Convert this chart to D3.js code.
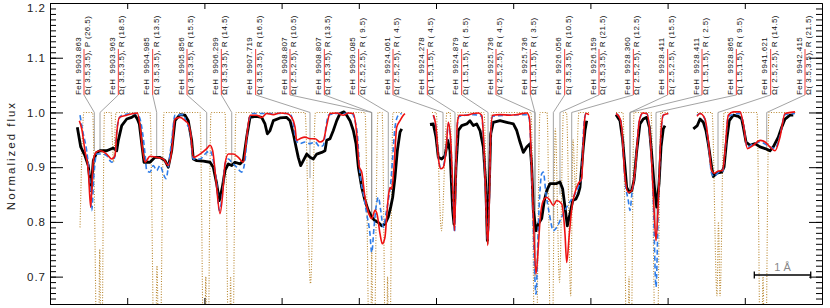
<!DOCTYPE html>
<html>
<head>
<meta charset="utf-8">
<script src="https://cdn.jsdelivr.net/npm/d3@7"></script>
<style>
  body { margin: 0; background: #fff; }
  svg { display: block; font-family: "Liberation Sans", Arial, sans-serif; }
</style>
</head>
<body>
<div id="chart"></div>
<script>
// x is the position along the spliced spectrum (plot runs 0..10), y is normalized flux

// observed spectrum, four spectral windows
const obs1 = [[0.354,0.973],[0.398,0.937],[0.453,0.921],[0.496,0.903],[0.531,0.857],[0.561,0.912],[0.605,0.927],[0.648,0.930],[0.734,0.930],[0.820,0.935],[0.864,0.930],[0.885,0.949],[0.929,0.976],[0.994,0.988],[1.058,0.991],[1.101,0.995],[1.131,0.988],[1.157,0.979],[1.188,0.943],[1.218,0.909],[1.295,0.909],[1.360,0.918],[1.425,0.918],[1.490,0.912],[1.532,0.900],[1.576,0.930],[1.619,0.985],[1.684,0.996],[1.749,0.995],[1.791,0.985],[1.835,0.949],[1.856,0.915],[1.900,0.912],[1.986,0.911],[2.073,0.909],[2.115,0.900],[2.159,0.870],[2.193,0.839],[2.232,0.863],[2.267,0.894],[2.310,0.906],[2.354,0.903],[2.396,0.909],[2.461,0.906],[2.504,0.912],[2.548,0.955],[2.591,0.991],[2.677,0.993],[2.742,0.991],[2.785,0.979],[2.815,0.961],[2.850,0.967],[2.893,0.985],[2.979,0.990],[3.066,0.991],[3.109,0.985],[3.152,0.961],[3.187,0.937],[3.216,0.918],[3.247,0.903],[3.281,0.912],[3.325,0.924],[3.368,0.918],[3.411,0.915],[3.455,0.924],[3.519,0.927],[3.562,0.930],[3.584,0.949],[3.627,0.952],[3.670,0.967],[3.714,0.985],[3.756,0.998],[3.808,1.001],[3.843,0.995],[3.886,0.985],[3.929,0.967],[3.964,0.943],[3.994,0.900],[4.038,0.863],[4.080,0.839],[4.123,0.821],[4.167,0.809],[4.210,0.802],[4.253,0.799],[4.297,0.793],[4.339,0.796],[4.382,0.809],[4.413,0.827],[4.439,0.845],[4.469,0.882],[4.499,0.930],[4.534,0.964],[4.556,0.970]];
const obs2 = [[4.922,0.978],[4.965,0.979],[5.000,0.955],[5.030,0.918],[5.074,0.915],[5.117,0.921],[5.152,0.949],[5.181,0.930],[5.216,0.821],[5.233,0.796],[5.259,0.900],[5.289,0.967],[5.333,0.976],[5.398,0.979],[5.440,0.985],[5.483,0.976],[5.527,0.979],[5.570,0.967],[5.613,0.937],[5.644,0.870],[5.665,0.766],[5.691,0.870],[5.709,0.961],[5.742,0.982],[5.829,0.985],[5.916,0.982],[6.002,0.979],[6.046,0.967],[6.088,0.946],[6.131,0.927],[6.175,0.937],[6.218,0.943],[6.240,0.900],[6.261,0.821],[6.295,0.784],[6.325,0.796],[6.369,0.806],[6.403,0.839],[6.434,0.857],[6.477,0.870],[6.520,0.870],[6.563,0.870],[6.606,0.873],[6.641,0.860],[6.671,0.827],[6.701,0.793],[6.736,0.815],[6.771,0.839],[6.813,0.842],[6.843,0.851],[6.865,0.863],[6.887,0.900],[6.908,0.937],[6.930,0.967],[6.952,0.985]];
const obs3 = [[7.332,0.996],[7.383,0.985],[7.418,0.949],[7.448,0.900],[7.470,0.863],[7.504,0.854],[7.535,0.857],[7.565,0.876],[7.600,0.930],[7.642,0.979],[7.685,0.988],[7.729,0.991],[7.763,0.973],[7.794,0.924],[7.824,0.870],[7.859,0.827],[7.889,0.870],[7.915,0.937],[7.944,0.970],[7.966,0.976]];
const obs4 = [[8.333,0.970],[8.385,0.976],[8.420,0.988],[8.463,0.982],[8.497,0.967],[8.527,0.943],[8.571,0.900],[8.592,0.883],[8.636,0.889],[8.701,0.891],[8.731,0.900],[8.765,0.949],[8.799,0.985],[8.851,0.995],[8.916,0.993],[8.960,0.988],[8.981,0.973],[9.016,0.946],[9.067,0.940],[9.132,0.943],[9.197,0.937],[9.262,0.934],[9.326,0.930],[9.369,0.937],[9.434,0.955],[9.478,0.973],[9.521,0.988],[9.585,0.995],[9.628,0.995]];

// red model
const red1 = [[0.380,0.985],[0.411,0.970],[0.453,0.930],[0.496,0.894],[0.527,0.827],[0.561,0.912],[0.596,0.927],[0.648,0.930],[0.734,0.924],[0.799,0.915],[0.842,0.921],[0.864,0.961],[0.898,0.991],[0.994,0.995],[1.079,0.998],[1.131,0.999],[1.166,0.976],[1.201,0.930],[1.231,0.909],[1.295,0.920],[1.382,0.918],[1.468,0.915],[1.532,0.903],[1.576,0.930],[1.619,0.988],[1.684,0.991],[1.749,0.985],[1.791,0.979],[1.822,0.961],[1.856,0.918],[1.943,0.924],[2.030,0.934],[2.073,0.940],[2.107,0.930],[2.150,0.876],[2.202,0.815],[2.237,0.851],[2.267,0.906],[2.310,0.924],[2.374,0.924],[2.439,0.918],[2.504,0.909],[2.548,0.955],[2.591,0.995],[2.677,0.995],[2.742,0.991],[2.807,0.998],[2.893,0.996],[2.979,0.999],[3.066,0.998],[3.131,0.991],[3.174,0.973],[3.196,0.949],[3.238,0.952],[3.303,0.955],[3.368,0.952],[3.433,0.952],[3.497,0.946],[3.540,0.949],[3.584,0.976],[3.627,0.998],[3.714,0.999],[3.799,0.995],[3.864,0.999],[3.929,0.998],[3.973,0.961],[4.007,0.900],[4.038,0.891],[4.080,0.845],[4.123,0.818],[4.167,0.806],[4.210,0.821],[4.240,0.812],[4.275,0.778],[4.305,0.760],[4.339,0.772],[4.361,0.809],[4.382,0.845],[4.404,0.863],[4.426,0.860],[4.456,0.900],[4.491,0.973],[4.534,0.985],[4.577,0.995],[4.598,0.998]];
const red2 = [[4.965,0.995],[5.000,0.973],[5.030,0.918],[5.061,0.897],[5.095,0.900],[5.130,0.930],[5.160,0.982],[5.190,0.949],[5.224,0.839],[5.240,0.784],[5.259,0.900],[5.276,0.979],[5.302,0.995],[5.398,0.995],[5.483,0.998],[5.548,0.999],[5.592,0.995],[5.613,0.961],[5.639,0.870],[5.670,0.757],[5.691,0.839],[5.709,0.961],[5.734,0.995],[5.829,0.996],[5.959,0.995],[6.046,0.996],[6.175,0.999],[6.209,0.991],[6.231,0.930],[6.261,0.809],[6.295,0.705],[6.325,0.754],[6.347,0.802],[6.390,0.839],[6.434,0.845],[6.477,0.839],[6.520,0.830],[6.563,0.839],[6.628,0.833],[6.671,0.778],[6.693,0.726],[6.727,0.778],[6.758,0.824],[6.801,0.854],[6.843,0.870],[6.887,0.879],[6.904,0.930],[6.924,0.985],[6.943,0.998],[6.982,0.996]];
const red3 = [[7.332,0.998],[7.383,0.989],[7.405,0.973],[7.448,0.882],[7.491,0.854],[7.535,0.857],[7.578,0.894],[7.634,0.985],[7.677,0.999],[7.729,0.998],[7.772,0.961],[7.815,0.851],[7.850,0.766],[7.880,0.839],[7.911,0.955],[7.944,0.995],[8.009,0.998]];
const red4 = [[8.381,0.993],[8.420,0.998],[8.485,0.988],[8.527,0.949],[8.571,0.894],[8.601,0.889],[8.657,0.893],[8.714,0.894],[8.744,0.930],[8.786,0.995],[8.851,1.001],[8.938,1.001],[8.981,0.979],[9.033,0.934],[9.110,0.940],[9.197,0.949],[9.262,0.946],[9.326,0.937],[9.391,0.930],[9.456,0.955],[9.521,0.998],[9.650,1.001]];

// blue dashed model
const blue1 = [[0.389,0.995],[0.431,0.961],[0.475,0.930],[0.518,0.870],[0.540,0.821],[0.570,0.888],[0.605,0.924],[0.670,0.924],[0.734,0.921],[0.799,0.909],[0.842,0.921],[0.872,0.976],[0.929,0.995],[1.123,0.998],[1.166,0.988],[1.201,0.961],[1.231,0.924],[1.253,0.894],[1.295,0.891],[1.338,0.903],[1.382,0.894],[1.425,0.903],[1.468,0.888],[1.503,0.879],[1.532,0.900],[1.576,0.949],[1.619,0.995],[1.727,0.996],[1.771,0.979],[1.813,0.967],[1.856,0.915],[1.943,0.915],[2.030,0.927],[2.073,0.930],[2.115,0.912],[2.159,0.870],[2.193,0.821],[2.237,0.857],[2.267,0.906],[2.310,0.915],[2.354,0.909],[2.418,0.900],[2.483,0.891],[2.526,0.912],[2.569,0.979],[2.613,0.998],[3.109,0.998],[3.152,0.979],[3.187,0.949],[3.238,0.943],[3.303,0.946],[3.368,0.943],[3.433,0.946],[3.497,0.937],[3.540,0.940],[3.575,0.973],[3.605,0.995],[3.714,0.998],[3.908,0.998],[3.951,0.985],[3.981,0.961],[4.016,0.888],[4.059,0.851],[4.102,0.815],[4.145,0.778],[4.167,0.744],[4.197,0.790],[4.223,0.827],[4.253,0.845],[4.284,0.821],[4.318,0.790],[4.352,0.815],[4.382,0.839],[4.413,0.870],[4.439,0.918],[4.469,0.973],[4.512,0.995],[4.556,0.998]];
const blue2 = [[4.965,0.995],[5.000,0.971],[5.030,0.918],[5.061,0.900],[5.095,0.903],[5.130,0.934],[5.160,0.979],[5.190,0.946],[5.224,0.830],[5.240,0.781],[5.259,0.897],[5.276,0.976],[5.302,0.993],[5.483,0.996],[5.592,0.993],[5.613,0.958],[5.639,0.866],[5.670,0.766],[5.691,0.842],[5.709,0.958],[5.734,0.993],[6.175,0.996],[6.209,0.988],[6.231,0.924],[6.261,0.784],[6.295,0.668],[6.325,0.790],[6.347,0.857],[6.369,0.888],[6.390,0.891],[6.425,0.851],[6.468,0.815],[6.520,0.784],[6.563,0.790],[6.628,0.809],[6.693,0.827],[6.745,0.839],[6.801,0.851],[6.843,0.863],[6.887,0.885],[6.904,0.949],[6.924,0.989],[6.943,0.998],[6.982,0.998]];
const blue3 = [[7.332,0.998],[7.383,0.989],[7.405,0.973],[7.448,0.876],[7.491,0.839],[7.513,0.821],[7.535,0.848],[7.578,0.894],[7.634,0.985],[7.677,0.998],[7.729,0.998],[7.772,0.958],[7.815,0.839],[7.850,0.681],[7.880,0.830],[7.911,0.952],[7.944,0.995],[8.009,0.998]];
const blue4 = [[8.381,0.995],[8.420,0.998],[8.485,0.987],[8.527,0.945],[8.571,0.888],[8.601,0.883],[8.657,0.890],[8.714,0.892],[8.744,0.930],[8.786,0.993],[8.938,0.998],[8.981,0.978],[9.033,0.936],[9.110,0.943],[9.197,0.946],[9.326,0.937],[9.391,0.934],[9.456,0.958],[9.521,0.996],[9.650,0.998]];

// FeH-only synthetic spectrum (dotted)
const feh1 = [[0.389,0.79],[0.440,1.0],[0.551,1.0],[0.622,0.45],[0.645,0.75],[0.663,0.45],[0.706,1.0],[0.790,1.0],[0.823,0.91],[0.855,1.0],[1.295,1.0],[1.360,0.45],[1.386,0.72],[1.416,0.45],[1.477,1.0],[1.943,1.0],[1.999,0.45],[2.018,0.70],[2.040,0.45],[2.085,1.0],[2.267,1.0],[2.323,0.45],[2.339,0.70],[2.358,0.45],[2.409,1.0],[3.303,1.0],[3.374,0.687],[3.439,1.0],[4.080,1.0],[4.149,0.45],[4.168,0.75],[4.188,0.45],[4.249,1.0],[4.301,1.0],[4.356,0.45],[4.373,0.70],[4.391,0.45],[4.443,1.0],[4.573,1.0]];
const feh2 = [[4.948,1.0],[5.000,1.0],[5.071,0.784],[5.143,1.0],[5.181,1.0],[5.233,0.79],[5.285,1.0],[5.622,1.0],[5.670,0.76],[5.719,1.0],[6.231,1.0],[6.289,0.45],[6.347,1.0],[6.438,1.0],[6.496,0.45],[6.545,0.97],[6.600,0.69],[6.652,1.0],[6.690,1.0],[6.745,0.665],[6.775,0.95],[6.807,0.86],[6.852,1.0],[6.982,1.0]];
const feh3 = [[7.332,1.0],[7.422,1.0],[7.481,0.45],[7.500,0.70],[7.519,0.45],[7.565,1.0],[7.785,1.0],[7.854,0.45],[7.915,1.0],[8.005,1.0]];
const feh4 = [[8.381,1.0],[8.575,1.0],[8.640,0.665],[8.659,0.80],[8.679,0.665],[8.731,1.0],[9.158,1.0],[9.210,0.45],[9.236,0.70],[9.262,0.45],[9.313,1.0],[9.676,1.0]];

// line identifications
const lineWaves = ['9903.863','9903.963','9904.985','9905.856','9906.299','9907.719','9908.807','9908.807','9909.085','9924.061','9924.278','9924.879','9925.736','9925.736','9926.056','9926.159','9928.360','9928.411','9928.411','9928.865','9941.621','9942.415'];
const lineBands = ['Ω( 3.5,3.5), P (26.5)','Ω( 3.5,3.5), R (18.5)','Ω( 3.5,3.5), R (13.5)','Ω( 3.5,3.5), R (15.5)','Ω( 3.5,3.5), R (14.5)','Ω( 3.5,3.5), R (16.5)','Ω( 2.5,2.5), R (10.5)','Ω( 3.5,3.5), R (13.5)','Ω( 2.5,2.5), R ( 9.5)','Ω( 2.5,2.5), R ( 4.5)','Ω( 1.5,1.5), R ( 4.5)','Ω( 1.5,1.5), R ( 5.5)','Ω( 2.5,2.5), R ( 4.5)','Ω( 1.5,1.5), R ( 3.5)','Ω( 3.5,3.5), R (10.5)','Ω( 3.5,3.5), R (21.5)','Ω( 2.5,2.5), R (12.5)','Ω( 2.5,2.5), R (15.5)','Ω( 1.5,1.5), R ( 2.5)','Ω( 1.5,1.5), R ( 9.5)','Ω( 2.5,2.5), R (14.5)','Ω( 3.5,3.5), R (21.5)'];
const lineX = [0.574,0.648,1.382,2.030,2.354,3.368,4.167,4.167,4.382,5.091,5.246,5.674,6.282,6.282,6.520,6.606,6.758,7.513,7.513,7.850,8.653,9.284];
const lineDepth = [0.930,0.927,0.918,0.921,0.906,0.880,0.809,0.809,0.845,0.918,0.800,0.760,0.700,0.700,0.790,0.850,0.845,0.857,0.857,0.766,0.891,0.930];

// axes
const xTicks = [1, 2, 3, 4, 5, 6, 7, 8, 9];
const yMajor = [0.7, 0.8, 0.9, 1.0, 1.1, 1.2];
const yTickLabels = ['0.7', '0.8', '0.9', '1.0', '1.1', '1.2'];
const yMinor = d3.range(65, 121).map(v => v / 100);

// 1 Angstrom scale bar
const scaleBar = { x0: 9.123, x1: 9.854, y: 0.703, label: '1 Å' };

const margin = { top: 3, right: 8, bottom: 4, left: 50 };
const width = 830 - margin.left - margin.right;
const height = 308 - margin.top - margin.bottom;

const x = d3.scaleLinear().domain([0, 10]).range([0, width]);
const y = d3.scaleLinear().domain([0.65, 1.2]).range([height, 0]);

const svg = d3.select('#chart').append('svg')
  .attr('width', width + margin.left + margin.right)
  .attr('height', height + margin.top + margin.bottom)
  .append('g')
  .attr('transform', `translate(${margin.left},${margin.top})`);

svg.append('clipPath').attr('id', 'plot-clip')
  .append('rect').attr('width', width).attr('height', height);

// label markers: red tick, connector and vertical line down to the feature
const labelStep = (width - 34 - 17) / (lineWaves.length - 1);
const labels = svg.append('g');
lineWaves.forEach((w, i) => {
  const lx = 34 + i * labelStep;
  const lineXpx = x(lineX[i]);
  labels.append('path')
    .attr('fill', 'none')
    .attr('stroke', '#8c8c8c')
    .attr('stroke-width', 0.8)
    .attr('d', `M${lx},${y(1.032)}L${lineXpx},${y(1.0)}L${lineXpx},${y(lineDepth[i])}`);
  labels.append('line')
    .attr('x1', lx).attr('x2', lx)
    .attr('y1', y(1.032)).attr('y2', y(1.116))
    .attr('stroke', '#f23a3a')
    .attr('stroke-width', 1);
  const t = labels.append('g')
    .attr('transform', `translate(${lx},${y(1.032)}) rotate(-90)`)
    .style('font-size', '8px')
    .style('letter-spacing', '0.4px')
    .attr('fill', '#111');
  t.append('text').attr('x', 0).attr('y', -3.5)
    .style('white-space', 'pre')
    .text('FeH  ' + w);
  t.append('text').attr('x', 0).attr('y', 6)
    .style('white-space', 'pre')
    .text(lineBands[i]);
});

const plot = svg.append('g').attr('clip-path', 'url(#plot-clip)');

const lineSmooth = d3.line().x(d => x(d[0])).y(d => y(d[1])).curve(d3.curveMonotoneX);
const lineRough = d3.line().x(d => x(d[0])).y(d => y(d[1]));

[feh1, feh2, feh3, feh4].forEach(seg => {
  plot.append('path').datum(seg)
    .attr('fill', 'none')
    .attr('stroke', '#b8862e')
    .attr('stroke-width', 1.1)
    .attr('stroke-dasharray', '1,1.6')
    .attr('d', lineSmooth);
});

[obs1, obs2, obs3, obs4].forEach(seg => {
  plot.append('path').datum(seg)
    .attr('fill', 'none')
    .attr('stroke', '#000')
    .attr('stroke-width', 2.8)
    .attr('stroke-linejoin', 'round')
    .attr('d', lineRough);
});

[blue1, blue2, blue3, blue4].forEach(seg => {
  plot.append('path').datum(seg)
    .attr('fill', 'none')
    .attr('stroke', '#2f7de8')
    .attr('stroke-width', 1.6)
    .attr('stroke-dasharray', '5,3')
    .attr('d', lineSmooth);
});

[red1, red2, red3, red4].forEach(seg => {
  plot.append('path').datum(seg)
    .attr('fill', 'none')
    .attr('stroke', '#ee1111')
    .attr('stroke-width', 1.6)
    .attr('d', lineSmooth);
});

// frame and ticks, all pointing inward
svg.append('g')
  .call(d3.axisLeft(y).tickValues(yMinor).tickSize(-6).tickSizeOuter(0).tickFormat(''));
const yAxis = svg.append('g')
  .call(d3.axisLeft(y).tickValues(yMajor).tickSize(-13).tickSizeOuter(0).tickPadding(4)
    .tickFormat((d, i) => yTickLabels[i]));
yAxis.selectAll('text')
  .style('font-size', '11.5px')
  .style('letter-spacing', '1px')
  .attr('fill', '#222')
  .filter(d => d === 1.2).attr('y', 4.5);

svg.append('g').attr('transform', `translate(${width},0)`)
  .call(d3.axisRight(y).tickValues(yMinor).tickSize(-6).tickSizeOuter(0).tickFormat(''));
svg.append('g').attr('transform', `translate(${width},0)`)
  .call(d3.axisRight(y).tickValues(yMajor).tickSize(-13).tickSizeOuter(0).tickFormat(''));

svg.append('g').attr('transform', `translate(0,${height})`)
  .call(d3.axisBottom(x).tickValues(xTicks).tickSize(-6).tickSizeOuter(0).tickFormat(''));
svg.append('g')
  .call(d3.axisTop(x).tickValues(xTicks).tickSize(-6).tickSizeOuter(0).tickFormat(''));

svg.append('text')
  .attr('transform', `translate(${-35},${height / 2 + 2}) rotate(-90)`)
  .attr('text-anchor', 'middle')
  .style('font-size', '11.5px')
  .style('letter-spacing', '2px')
  .attr('fill', '#222')
  .text('Normalized flux');

// scale bar
const sb = svg.append('g');
sb.append('path')
  .attr('fill', 'none')
  .attr('stroke', '#000')
  .attr('stroke-width', 1.3)
  .attr('d', `M${x(scaleBar.x0)},${y(scaleBar.y) - 3.5}V${y(scaleBar.y) + 3.5}` +
    `M${x(scaleBar.x0)},${y(scaleBar.y)}H${x(scaleBar.x1)}` +
    `M${x(scaleBar.x1)},${y(scaleBar.y) - 3.5}V${y(scaleBar.y) + 3.5}`);
sb.append('text')
  .attr('x', (x(scaleBar.x0) + x(scaleBar.x1)) / 2)
  .attr('y', y(scaleBar.y) - 4)
  .attr('text-anchor', 'middle')
  .style('font-size', '11px')
  .attr('fill', '#888')
  .text(scaleBar.label);
</script>
</body>
</html>
